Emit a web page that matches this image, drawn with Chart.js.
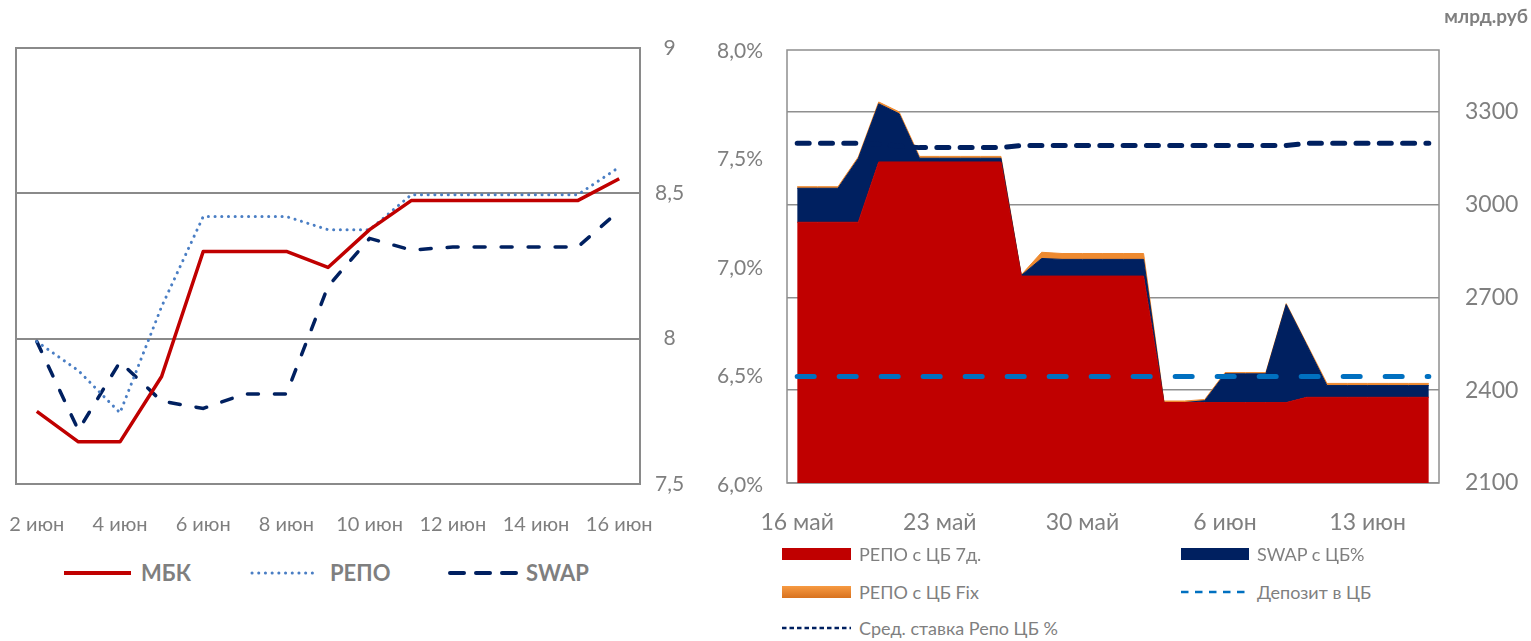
<!DOCTYPE html>
<html><head><meta charset="utf-8">
<script src="https://cdn.jsdelivr.net/npm/chart.js@4.4.1/dist/chart.umd.min.js"></script>
<style>
html,body{margin:0;padding:0;background:#fff;}
body{width:1531px;height:641px;position:relative;overflow:hidden;font-family:Lato,"Open Sans",sans-serif;color:#7f7f7f;}
.cbox{position:absolute;}
.lg{position:absolute;white-space:nowrap;height:24px;line-height:24px;}
.sw{position:absolute;}
</style></head><body>
<div class="cbox" style="left:0;top:0;width:700px;height:545px"><canvas id="cLeft"></canvas></div>
<div class="cbox" style="left:700px;top:0;width:831px;height:545px"><canvas id="cRight"></canvas></div>
<div id="unit" style="position:absolute;right:3px;top:4px;font-weight:bold;font-size:19px;color:#7f7f7f;">млрд.руб</div>
<div id="legends"></div>
<script>
// ---------- LEFT CHART DATA ----------
const leftDates = ['2 июн','3 июн','4 июн','5 июн','6 июн','7 июн','8 июн','9 июн','10 июн','11 июн','12 июн','13 июн','14 июн','15 июн','16 июн'];
const mbkRate  = [7.75, 7.645, 7.645, 7.87, 8.30, 8.30, 8.30, 8.245, 8.375, 8.475, 8.475, 8.475, 8.475, 8.475, 8.55];
const repoRate = [7.99, 7.89, 7.745, 8.11, 8.42, 8.42, 8.42, 8.375, 8.375, 8.495, 8.495, 8.495, 8.495, 8.495, 8.59];
const swapRate = [7.99, 7.685, 7.92, 7.785, 7.76, 7.81, 7.81, 8.18, 8.345, 8.305, 8.315, 8.315, 8.315, 8.315, 8.44];
const leftTicks = [7.5, 8, 8.5, 9];
const leftLabelIdx = [0, 2, 4, 6, 8, 10, 12, 14];

// ---------- RIGHT CHART DATA ----------
const rightDates = ['16 май','17 май','18 май','19 май','20 май','21 май','22 май','23 май','24 май','25 май','26 май','27 май','28 май','29 май','30 май','31 май','1 июн','2 июн','3 июн','4 июн','5 июн','6 июн','7 июн','8 июн','9 июн','10 июн','11 июн','12 июн','13 июн','14 июн','15 июн','16 июн'];
const rightLabelIdx = [0, 7, 14, 21, 28];
const repo7d  = [2943,2943,2943,2943, 3138,3138,3138,3138,3138,3138,3138, 2769,2769,2769,2769,2769,2769,2769, 2360,2360,2360,2360,2360,2360,2360, 2377,2377,2377,2377,2377,2377,2377];
const swapCB  = [110,110,110,206, 188,156,12,12,12,12,12, 2,57,54,54,54,54,54, 0,0,6,93,93,93,317, 170,38,38,38,38,38,38];
const repoFix = [5,5,5,5, 6,6,6,6,6,6,6, 2,20,19,19,19,19,19, 5,5,4,4,4,4,3, 4,7,7,7,7,7,7];
const deposit = [6.5,6.5,6.5,6.5,6.5,6.5,6.5,6.5,6.5,6.5,6.5,6.5,6.5,6.5,6.5,6.5,6.5,6.5,6.5,6.5,6.5,6.5,6.5,6.5,6.5,6.5,6.5,6.5,6.5,6.5,6.5,6.5];
const avgRepo = [7.575,7.575,7.575,7.575, 7.57,7.562,7.555,7.555,7.555,7.555,7.555, 7.565,7.565,7.565,7.565,7.565,7.565,7.565, 7.565,7.565,7.565,7.565,7.565,7.565,7.565, 7.575,7.575,7.575,7.575,7.575,7.575,7.575];
const rateTicks = [6, 6.5, 7, 7.5, 8];
const volTicks = [2100, 2400, 2700, 3000, 3300];

const GRAY = '#7f7f7f';
Chart.defaults.font.family = 'Lato, "Open Sans", sans-serif';
Chart.defaults.font.size = 20;
Chart.defaults.color = GRAY;

const boxPlugin = {
  id: 'plotBox',
  beforeDatasetsDraw(chart, args, opts) {
    const {ctx, chartArea: a} = chart;
    ctx.save();
    ctx.strokeStyle = opts.color;
    ctx.lineWidth = opts.width;
    ctx.strokeRect(a.left, a.top, a.right - a.left, a.bottom - a.top);
    ctx.restore();
  }
};

// LEFT CHART
const leftChart = new Chart(document.getElementById('cLeft'), {
  type: 'line',
  data: {
    labels: leftDates,
    datasets: [
      {label:'МБК', data: mbkRate, borderColor:'#C00000', borderWidth:3.5, pointRadius:0, tension:0, fill:false, borderJoinStyle:'round'},
      {label:'РЕПО', data: repoRate, borderColor:'#4A7EC4', borderWidth:3, borderDash:[0.1, 6.6], borderCapStyle:'round', pointRadius:0, tension:0, fill:false},
      {label:'SWAP', data: swapRate, borderColor:'#002060', borderWidth:3.5, borderDash:[11, 16], borderCapStyle:'round', pointRadius:0, tension:0, fill:false}
    ]
  },
  options: {
    responsive: true, maintainAspectRatio: false, animation: false, devicePixelRatio: 1, events: [],
    layout: {padding: {left: 16, top: 48, right: 0, bottom: 0}},
    plugins: {legend: {display: false}, tooltip: {enabled: false}, plotBox: {color: '#8a8a8a', width: 2}},
    scales: {
      x: {offset: true, grid: {display: false, drawTicks: false}, border: {display: false},
          ticks: {autoSkip: false, maxRotation: 0, padding: 29, font: {size: 20},
                  callback: (v, i) => leftLabelIdx.includes(i) ? leftDates[i] : ''},
          afterFit: s => { s.height = 61; s.paddingLeft = 0; s.paddingRight = 0; }},
      y: {position: 'right', min: 7.5, max: 9,
          afterBuildTicks: s => { s.ticks = leftTicks.map(v => ({value: v})); },
          grid: {color: '#8a8a8a', lineWidth: 2, drawTicks: false}, border: {display: false},
          ticks: {padding: 15, crossAlign: 'center', font: {size: 21}, callback: v => String(v).replace('.', ',')},
          afterFit: s => { s.width = 60; s.paddingTop = 0; s.paddingBottom = 0; }}
    }
  },
  plugins: [boxPlugin]
});

// RIGHT CHART
const rightChart = new Chart(document.getElementById('cRight'), {
  type: 'line',
  data: {
    labels: rightDates,
    datasets: [
      {label:'РЕПО с ЦБ 7д.', data: repo7d, yAxisID:'y2', backgroundColor:'#C00000', borderColor:'#C00000', borderWidth:1, fill:'start', pointRadius:0, tension:0, order:2},
      {label:'SWAP с ЦБ%', data: swapCB, yAxisID:'y2', backgroundColor:'#002060', borderColor:'#002060', borderWidth:1, fill:'-1', pointRadius:0, tension:0, order:2},
      {label:'РЕПО с ЦБ Fix', data: repoFix, yAxisID:'y2', backgroundColor:'#EE8A30', borderColor:'#EE8A30', borderWidth:1, fill:'-1', pointRadius:0, tension:0, order:2},
      {label:'Депозит в ЦБ', data: deposit, yAxisID:'y', borderColor:'#0070C0', borderWidth:5, borderDash:[17, 25], borderCapStyle:'round', fill:false, pointRadius:0, tension:0, order:0},
      {label:'Сред. ставка Репо ЦБ %', data: avgRepo, yAxisID:'y', borderColor:'#002060', borderWidth:5, borderDash:[12, 11.3], borderCapStyle:'round', fill:false, pointRadius:0, tension:0, order:0}
    ]
  },
  options: {
    responsive: true, maintainAspectRatio: false, animation: false, devicePixelRatio: 1, events: [],
    layout: {padding: {left: 0, top: 50, right: 0, bottom: 0}},
    plugins: {legend: {display: false}, tooltip: {enabled: false}, plotBox: {color: '#8f8f8f', width: 1.5}},
    scales: {
      x: {offset: true, grid: {display: false, drawTicks: false}, border: {display: false},
          ticks: {autoSkip: false, maxRotation: 0, padding: 26, font: {size: 23},
                  callback: (v, i) => rightLabelIdx.includes(i) ? rightDates[i] : ''},
          afterFit: s => { s.height = 62; s.paddingLeft = 0; s.paddingRight = 0; }},
      y: {position: 'left', min: 6.009, max: 8.005,
          afterBuildTicks: s => { s.ticks = rateTicks.map(v => ({value: v})); },
          grid: {display: false, drawTicks: false}, border: {display: false},
          ticks: {padding: 24, font: {size: 21}, callback: v => v.toFixed(1).replace('.', ',') + '%'},
          afterFit: s => { s.width = 87; s.paddingTop = 0; s.paddingBottom = 0; }},
      y2: {position: 'right', stacked: true, min: 2100, max: 3500,
          afterBuildTicks: s => { s.ticks = volTicks.map(v => ({value: v})); },
          grid: {color: '#8f8f8f', lineWidth: 1.5, drawTicks: false}, border: {display: false},
          ticks: {padding: 26, font: {size: 23}, callback: v => String(v)},
          afterFit: s => { s.width = 92; s.paddingTop = 0; s.paddingBottom = 0; }}
    }
  },
  plugins: [boxPlugin]
});

// ---------- HTML LEGENDS ----------
const legendHost = document.getElementById('legends');
function lineSwatch(x, y, len, color, width, dash, cap) {
  const ns = 'http://www.w3.org/2000/svg';
  const svg = document.createElementNS(ns, 'svg');
  svg.setAttribute('width', len + 8); svg.setAttribute('height', 12);
  svg.style.position = 'absolute'; svg.style.left = (x - 4) + 'px'; svg.style.top = (y - 6) + 'px';
  const l = document.createElementNS(ns, 'line');
  l.setAttribute('x1', 4); l.setAttribute('x2', len + 4); l.setAttribute('y1', 6); l.setAttribute('y2', 6);
  l.setAttribute('stroke', color); l.setAttribute('stroke-width', width);
  if (dash) l.setAttribute('stroke-dasharray', dash);
  l.setAttribute('stroke-linecap', cap || 'butt');
  svg.appendChild(l);
  legendHost.appendChild(svg);
}
function rectSwatch(x, y, w, h, bg) {
  const d = document.createElement('div');
  d.className = 'sw';
  d.style.left = x + 'px'; d.style.top = (y - h / 2) + 'px'; d.style.width = w + 'px'; d.style.height = h + 'px';
  d.style.background = bg;
  legendHost.appendChild(d);
}
function legText(x, y, text, size, bold) {
  const d = document.createElement('div');
  d.className = 'lg';
  d.style.left = x + 'px'; d.style.top = (y - 12) + 'px';
  d.style.fontSize = size + 'px'; d.style.fontWeight = bold ? 'bold' : 'normal';
  d.textContent = text;
  legendHost.appendChild(d);
}
const lds = leftChart.data.datasets;
lineSwatch(64, 573, 67, lds[0].borderColor, 4, null, 'butt');
legText(141, 573, lds[0].label, 22, true);
lineSwatch(252, 573, 62, lds[1].borderColor, 3, '0.1 6.6', 'round');
legText(330, 573, lds[1].label, 22, true);
lineSwatch(450, 573, 68, lds[2].borderColor, 4, '14 12', 'round');
legText(526, 573, lds[2].label, 22, true);

const rds = rightChart.data.datasets;
rectSwatch(782, 554, 69, 12, rds[0].backgroundColor);
legText(859, 554, rds[0].label, 18, false);
rectSwatch(1181, 554, 68, 12, rds[1].backgroundColor);
legText(1257, 554, rds[1].label, 18, false);
rectSwatch(782, 592, 69, 12, 'linear-gradient(#F79A42, #D8721E)');
legText(859, 592, rds[2].label, 18, false);
lineSwatch(1181, 592, 68, rds[3].borderColor, 2.5, '7.5 6.5', 'butt');
legText(1257, 592, rds[3].label, 18, false);
lineSwatch(782, 628, 69, rds[4].borderColor, 2.5, '4.5 3', 'butt');
legText(859, 628, rds[4].label, 18, false);
</script>
</body></html>
